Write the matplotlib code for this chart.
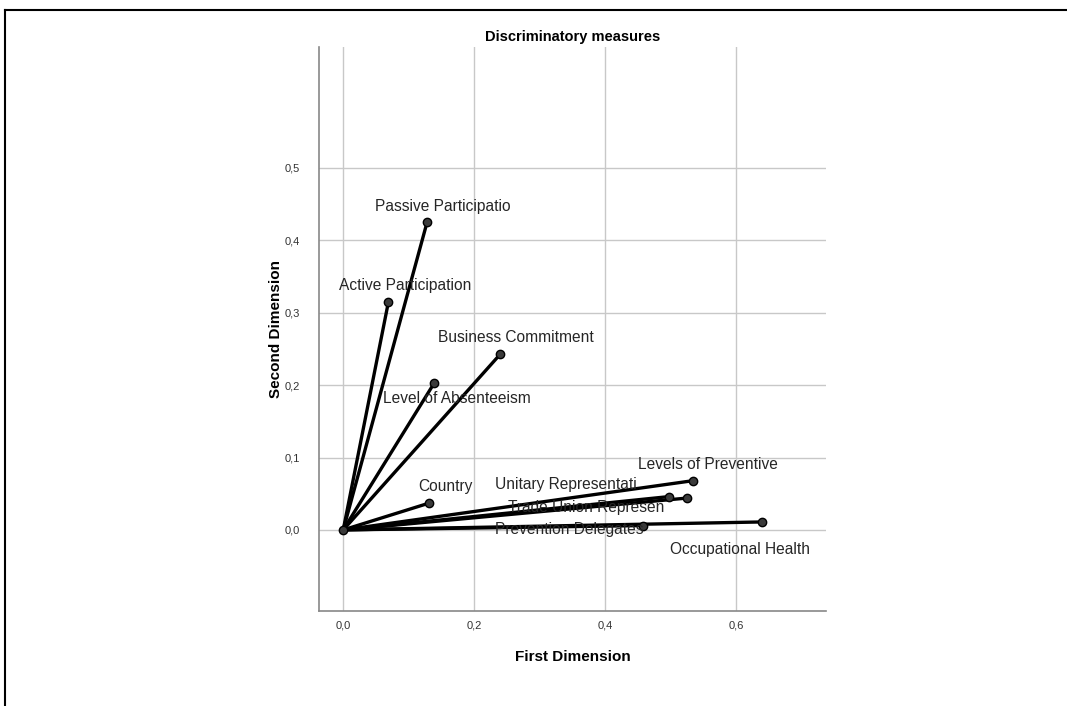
import matplotlib.pyplot as plt
from matplotlib.lines import Line2D
from matplotlib.ticker import FuncFormatter

# Discrimination measures (dimension 1, dimension 2)
variables = ["Passive Participatio", "Active Participation", "Business Commitment",
             "Level of Absenteeism", "Country", "Levels of Preventive",
             "Unitary Representati", "Trade Union Represen", "Prevention Delegates",
             "Occupational Health"]
dim1 = [0.128, 0.069, 0.240, 0.139, 0.131, 0.534, 0.497, 0.525, 0.458, 0.639]
dim2 = [0.425, 0.315, 0.243, 0.203, 0.037, 0.068, 0.046, 0.044, 0.006, 0.011]

# label offsets (points) and alignment
offsets = [(11, 11), (12, 12), (11, 12), (16, -11), (12, 12), (11, 12),
           (-74, 9), (-73, -7), (0, -3), (-16, -20)]
aligns = ["center"] * 6 + ["center", "center", "right", "center"]

plt.rcParams['font.family'] = ['Liberation Sans', 'DejaVu Sans']

fig = plt.figure(figsize=(10.67, 7.06), dpi=100)
ax = fig.add_axes([319 / 1067, 1 - 611 / 706, (826 - 319) / 1067, (611 - 47) / 706])

for x, y in zip(dim1, dim2):
    ax.plot([0, x], [0, y], color="black", lw=2.4, solid_capstyle="butt", zorder=3)
ax.plot(dim1, dim2, "o", ms=6, mfc="#3a3a3a", mec="black", mew=1, zorder=4)
ax.plot([0], [0], "o", ms=6, mfc="#3a3a3a", mec="black", mew=1, zorder=4)

for name, x, y, off, ha in zip(variables, dim1, dim2, offsets, aligns):
    ax.annotate(name, (x, y), xytext=off, textcoords="offset points",
                ha=ha, va="center", fontsize=11.2, color="#262626", zorder=5)

ax.set_xlim(-0.037, 0.737)
ax.set_ylim(-0.112, 0.667)
ax.set_xticks([0.0, 0.2, 0.4, 0.6])
ax.set_yticks([0.0, 0.1, 0.2, 0.3, 0.4, 0.5])
fmt = FuncFormatter(lambda v, p: f"{v:.1f}".replace(".", ","))
ax.xaxis.set_major_formatter(fmt)
ax.yaxis.set_major_formatter(fmt)
ax.tick_params(length=0, labelsize=8, colors="#333333")
ax.tick_params(axis="x", pad=7)
ax.tick_params(axis="y", pad=14)
ax.grid(True, color="#c8c8c8", lw=1)
ax.set_axisbelow(True)
for s in ["top", "right"]:
    ax.spines[s].set_visible(False)
for s in ["left", "bottom"]:
    ax.spines[s].set_color("#888888")
    ax.spines[s].set_linewidth(1.2)

ax.set_xlabel("First Dimension", fontsize=11, fontweight="bold", labelpad=14)
ax.set_ylabel("Second Dimension", fontsize=11, fontweight="bold", labelpad=1)
ax.set_title("Discriminatory measures", fontsize=10.5, fontweight="bold", pad=4)

# frame of the output window
fig.add_artist(Line2D([5 / 1067, 1], [1 - 10 / 706, 1 - 10 / 706], color="black", lw=1.5,
                      transform=fig.transFigure))
fig.add_artist(Line2D([5 / 1067, 5 / 1067], [0, 1 - 10 / 706], color="black", lw=1.5,
                      transform=fig.transFigure))

fig.savefig("out.png", dpi=100)
